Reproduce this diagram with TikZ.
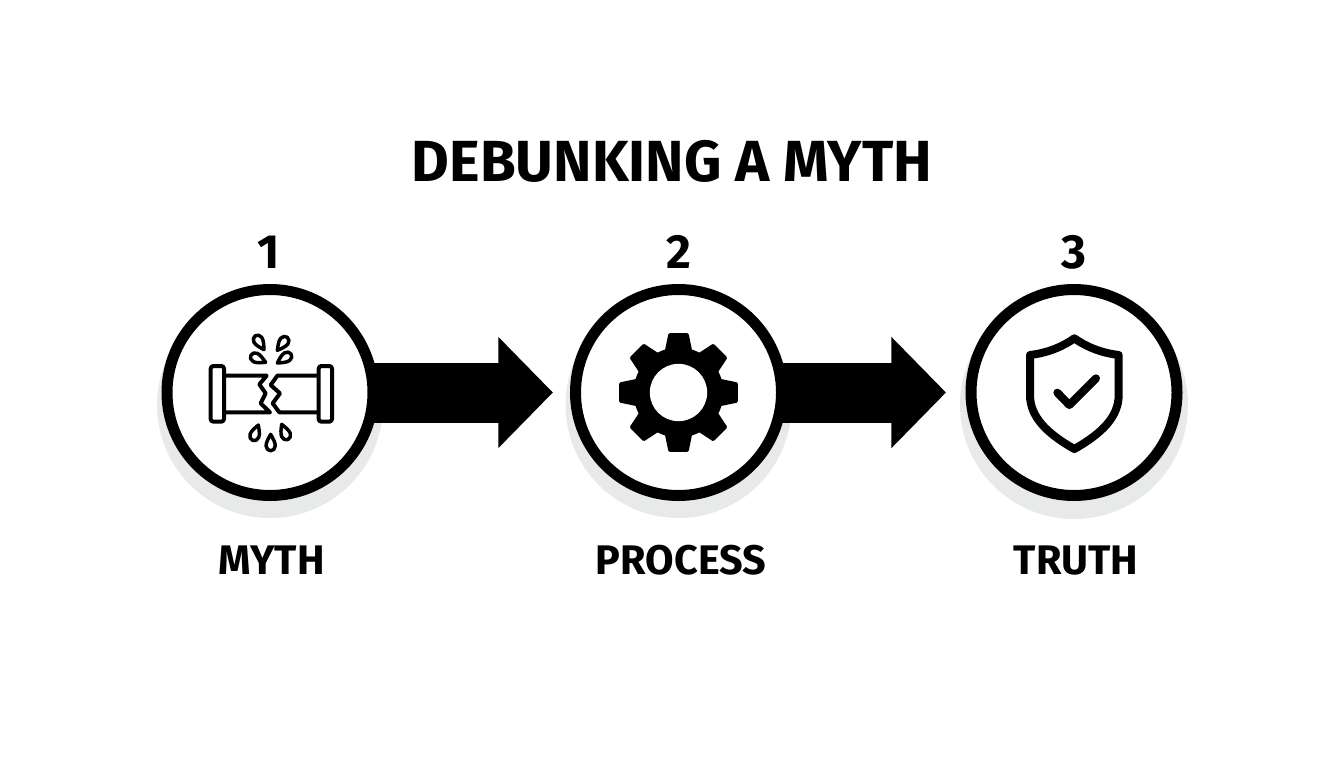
\documentclass[tikz,border=0pt]{standalone}
\usepackage{fontspec}
\setmainfont{Fira Sans}
\usetikzlibrary{arrows.meta,backgrounds}
\definecolor{shadowgray}{HTML}{E8E9E9}
\tikzset{
	stepring/.style={circle,draw=black,fill=white,line width=8.25pt,minimum size=154.5pt,inner sep=0pt},
	titletext/.style={anchor=base,font=\fontsize{43.5}{44}\selectfont\bfseries},
	numbertext/.style={anchor=base,font=\fontsize{36}{36}\selectfont\bfseries},
	labeltext/.style={anchor=base,font=\fontsize{31}{31}\selectfont\bfseries},
	bigarrow/.style={-{Triangle[length=41pt,width=81pt]},line width=45pt,black},
	iconline/.style={draw=black,line width=3pt,line join=round},
	dropline/.style={draw=black,line width=2.6pt,line join=round},
	dropicon/.pic={
		\draw[dropline] (0,0) .. controls (-2.5,4.5) and (-4.6,8) .. (-4.6,11.5)
			.. controls (-4.6,14.5) and (-2.3,16.4) .. (0,16.4)
			.. controls (2.3,16.4) and (4.6,14.5) .. (4.6,11.5)
			.. controls (4.6,8) and (2.5,4.5) .. (0,0) -- cycle;
	},
}
\begin{document}
\begin{tikzpicture}[x=0.75pt,y=-0.75pt]
	\useasboundingbox (0,0) rectangle (1344,768);
	\node[titletext] (title) at (672,181.5) {DEBUNKING A MYTH};
	\node[numbertext] (num1) at (269,268) {1};
	\node[numbertext] (num2) at (679,268) {2};
	\node[numbertext] (num3) at (1074,268) {3};
	\node[stepring] (myth) at (270,392.5) {};
	\node[stepring] (process) at (678.5,392.5) {};
	\node[stepring] (truth) at (1074,392.5) {};
	\node[labeltext] (mythlabel) at (271.5,574) {MYTH};
	\node[labeltext] (processlabel) at (681,574) {PROCESS};
	\node[labeltext] (truthlabel) at (1076,574) {TRUTH};
	\begin{scope}[on background layer]
		\fill[shadowgray] (270,405) circle (113);
		\fill[shadowgray] (678.5,405) circle (113);
		\fill[shadowgray] (1074,405) circle (114);
		\draw[bigarrow,shorten >=12.8pt] (myth.center) -- (process.west);
		\draw[bigarrow,shorten >=14.6pt] (process.center) -- (truth.west);
	\end{scope}
	% broken pipe
	\begin{scope}[shift={(200,325)},scale=1/3]
		\draw[iconline,rounded corners=2pt] (32,123) rectangle (72,290);
		\draw[iconline,rounded corners=2pt] (356,123) rectangle (396,290);
		\draw[iconline] (72,152) -- (200,152) -- (178,178) -- (197,205) -- (182,235) -- (210,262) -- (72,262);
		\draw[iconline] (356,152) -- (232,152) -- (212,180) -- (240,205) -- (218,235) -- (238,262) -- (356,262);
		\path (192,74) pic[rotate=212] {dropicon};
		\path (232,76) pic[rotate=143] {dropicon};
		\path (197,112) pic[rotate=245] {dropicon};
		\path (232,114) pic[rotate=123] {dropicon};
		\path (175,300) pic[rotate=-20] {dropicon};
		\path (212,328) pic {dropicon};
		\path (245,298) pic[rotate=22] {dropicon};
	\end{scope}
	% gear
	\begin{scope}[shift={(process.center)},scale=1/3]
		\fill (0,0) circle (135);
		\fill[rounded corners=1pt] (-42,-120) -- (-30,-178) -- (30,-178) -- (42,-120) -- cycle;
		\fill[rotate=45,rounded corners=1pt] (-42,-120) -- (-30,-178) -- (30,-178) -- (42,-120) -- cycle;
		\fill[rotate=90,rounded corners=1pt] (-42,-120) -- (-30,-178) -- (30,-178) -- (42,-120) -- cycle;
		\fill[rotate=135,rounded corners=1pt] (-42,-120) -- (-30,-178) -- (30,-178) -- (42,-120) -- cycle;
		\fill[rotate=180,rounded corners=1pt] (-42,-120) -- (-30,-178) -- (30,-178) -- (42,-120) -- cycle;
		\fill[rotate=225,rounded corners=1pt] (-42,-120) -- (-30,-178) -- (30,-178) -- (42,-120) -- cycle;
		\fill[rotate=270,rounded corners=1pt] (-42,-120) -- (-30,-178) -- (30,-178) -- (42,-120) -- cycle;
		\fill[rotate=315,rounded corners=1pt] (-42,-120) -- (-30,-178) -- (30,-178) -- (42,-120) -- cycle;
		\fill[white] (0,0) circle (86);
	\end{scope}
	% shield
	\begin{scope}[shift={(950,270)},scale=1/3]
		\draw[line width=6pt,line join=round] (373,205) .. controls (345,225) and (300,248) .. (240,255) -- (240,375)
			.. controls (240,440) and (290,490) .. (373,537)
			.. controls (456,490) and (506,440) .. (506,375) -- (506,255)
			.. controls (446,248) and (401,225) .. (373,205) -- cycle;
		\draw[line width=6pt,line cap=round,line join=round] (322,368) -- (358,405) -- (438,325);
	\end{scope}
\end{tikzpicture}
\end{document}
